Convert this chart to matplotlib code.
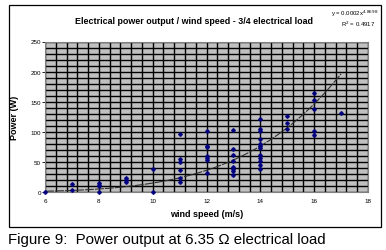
import matplotlib
matplotlib.use("Agg")
import matplotlib.pyplot as plt
import numpy as np
from matplotlib.patches import Rectangle

plt.rcParams['font.family'] = ['Liberation Sans', 'DejaVu Sans']

# Data (wind speed m/s, power W)
wind = [6, 7, 7, 8, 8, 8, 8, 9, 9, 9, 10, 10,
        11, 11, 11, 11, 11, 11,
        12, 12, 12, 12, 12, 12, 12,
        13, 13, 13, 13, 13, 13, 13, 13,
        14, 14, 14, 14, 14, 14, 14, 14, 14, 14, 14, 14,
        15, 15, 15,
        16, 16, 16, 16, 16,
        17]
power = [0, 14, 4, 15, 12, 10, 0, 23, 20, 16, 38, 0,
         97, 55, 50, 37, 24, 16,
         101, 76, 74, 59, 56, 53, 31,
         103, 72, 61, 51, 41, 38, 35, 29,
         121, 104, 101, 88, 80, 77, 73, 62, 56, 51, 45, 39,
         126, 115, 105,
         164, 153, 138, 102, 95,
         131]

trend_coef = 0.0002
trend_exp = 4.87
trend_range = [6, 17]
eq_text = "y = 0.0002x$^{4.8698}$"
r2_text = "R$^2$ = 0.4917"

xticks = [6, 8, 10, 12, 14, 16, 18]
yticks = [0, 50, 100, 150, 200, 250]

fig = plt.figure(figsize=(3.86, 2.51), dpi=100)
fig.patch.set_facecolor('white')

# outer frame
fig.add_artist(Rectangle((9/386, 1-228/251), (381-9)/386, (228-6)/251,
                         transform=fig.transFigure, fill=False,
                         edgecolor='black', lw=0.9))

ax = fig.add_axes([45/386, 1-193/251, (368-45)/386, (193-42.5)/251])
ax.set_facecolor('#C0C0C0')
ax.set_xlim(6, 18)
ax.set_ylim(0, 250)

# grid
for gx in np.arange(6, 18.001, 0.4):
    ax.axvline(gx, color='black', lw=1.0, zorder=1)
for gy in np.arange(0, 250.001, 10):
    ax.axhline(gy, color='black', lw=1.0, zorder=1)

for s in ax.spines.values():
    s.set_edgecolor('#808080')
    s.set_linewidth(0.8)

ax.set_xticks(xticks)
ax.set_yticks(yticks)
ax.tick_params(axis='x', length=0, labelsize=4.5, pad=4, colors='black')
ax.tick_params(axis='y', length=2, width=0.6, labelsize=4.5, pad=1, colors='black')

# trendline
tx = np.linspace(trend_range[0], trend_range[1], 200)
ty = trend_coef * tx ** trend_exp
ax.plot(tx, ty, color='#303030', lw=0.8, ls=(0, (8, 1)), zorder=2)

ax.plot(wind, power, ls='none', marker='P', ms=2.3, color='#000080',
        mec='#000080', zorder=3, clip_on=False)

ax.set_xlabel('wind speed (m/s)', fontsize=6.5, fontweight='bold', labelpad=5)
ax.set_ylabel('Power (W)', fontsize=6.5, fontweight='bold', labelpad=8)

fig.text(194/386, 1-21/251, 'Electrical power output / wind speed - 3/4 electrical load',
         ha='center', va='center', fontsize=6.4, fontweight='bold')
fig.text(355/386, 1-14/251, eq_text, ha='center', va='center', fontsize=4.3)
fig.text(358/386, 1-24/251, r2_text, ha='center', va='center', fontsize=4.3)

fig.text(8/386, 1-240/251, 'Figure 9:  Power output at 6.35 \u03a9 electrical load',
         ha='left', va='center', fontsize=10.8)

fig.savefig('out.png', dpi=100)
